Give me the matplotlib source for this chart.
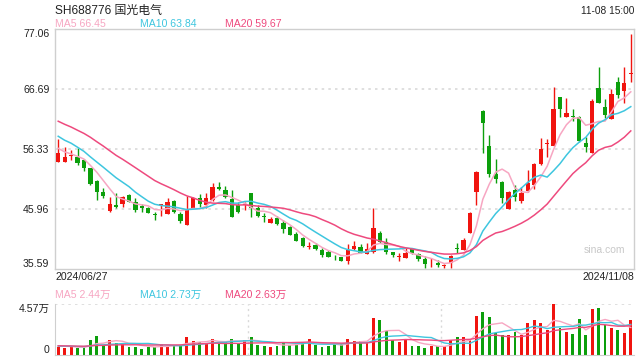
import matplotlib
matplotlib.use("Agg")
import matplotlib.pyplot as plt
import numpy as np

plt.rcParams['font.family'] = ['Liberation Sans', 'Noto Sans CJK SC']

##############################################################################
# Data
title = "SH688776 国光电气"
date_first = "2024/06/27"
date_last = "2024/11/08"
stamp = "11-08 15:00"

opens = [54.20, 54.20, 55.24, 55.01, 54.49, 53.05, 50.87, 49.02, 45.74, 46.72,
         46.89, 48.45, 47.18, 46.55, 46.26, 45.17, 46.66, 45.22, 47.41, 45.11,
         43.27, 46.20, 47.87, 46.72, 47.64, 49.83, 49.31, 47.76, 46.72, 46.72,
         48.74, 46.26, 44.82, 43.67, 44.53, 43.56, 42.87, 41.71, 40.97, 39.41,
         39.76, 38.95, 38.61, 37.74, 37.68, 36.94, 39.12, 39.41, 38.20, 38.66,
         41.94, 40.39, 38.61, 37.68, 37.51, 39.12, 38.26, 37.40, 36.42, 36.76,
         36.19, 36.65, 39.18, 38.95, 41.83, 49.02, 63.01, 56.91, 52.07, 50.69,
         45.97, 49.31, 47.47, 49.20, 50.17, 53.80, 57.26, 56.91, 65.31, 61.97,
         62.09, 61.97, 57.37, 55.76, 66.87, 63.59, 61.57, 67.96, 66.46, 69.34]
highs = [58.12, 56.68, 56.16, 56.50, 54.60, 53.17, 50.98, 49.71, 48.16, 48.74,
         48.22, 48.56, 47.99, 46.84, 46.40, 45.45, 46.95, 47.87, 47.58, 45.57,
         48.22, 48.05, 48.62, 48.85, 50.46, 50.64, 50.06, 49.31, 47.30, 47.30,
         48.85, 46.72, 45.28, 44.59, 44.82, 44.13, 43.10, 42.12, 41.25, 40.39,
         40.10, 39.24, 38.95, 38.09, 37.80, 39.99, 40.51, 39.99, 40.10, 46.15,
         42.23, 40.97, 38.66, 38.37, 39.24, 39.24, 38.49, 37.92, 37.51, 37.22,
         36.53, 38.09, 40.10, 40.97, 45.57, 52.59, 63.13, 58.81, 54.61, 50.81,
         49.20, 50.17, 49.77, 52.77, 53.92, 58.23, 58.06, 67.15, 65.43, 65.14,
         63.30, 62.09, 58.41, 64.97, 70.49, 65.03, 66.69, 68.77, 70.49, 76.25]
lows = [54.20, 54.20, 54.49, 53.63, 52.65, 50.17, 47.58, 47.99, 45.45, 46.20,
        46.43, 47.18, 45.45, 45.45, 45.30, 44.13, 44.82, 45.22, 45.39, 43.67,
        43.27, 46.14, 46.43, 46.26, 47.47, 49.37, 47.99, 44.71, 45.28, 45.86,
        44.71, 44.71, 43.84, 43.56, 43.27, 41.83, 41.54, 40.45, 39.41, 39.07,
        38.95, 37.80, 37.63, 37.22, 37.05, 36.48, 38.95, 38.37, 38.20, 38.49,
        40.10, 38.20, 37.63, 37.11, 37.51, 38.26, 37.11, 35.90, 36.07, 36.07,
        35.90, 35.90, 38.37, 38.95, 41.83, 46.72, 55.64, 51.61, 50.46, 47.12,
        45.97, 47.47, 47.01, 49.02, 49.43, 53.63, 54.95, 56.91, 61.97, 61.97,
        61.28, 57.66, 55.93, 55.76, 64.28, 61.69, 61.57, 65.14, 64.28, 68.02]
closes = [55.76, 54.95, 55.41, 54.03, 53.05, 50.29, 49.02, 48.33, 46.89, 46.32,
          48.10, 47.30, 45.80, 46.15, 45.40, 44.99, 46.84, 47.24, 45.57, 43.96,
          45.86, 47.93, 46.89, 47.87, 49.77, 49.49, 48.16, 44.71, 45.57, 46.89,
          46.15, 44.88, 44.65, 44.30, 43.38, 42.58, 41.54, 40.56, 39.53, 39.58,
          39.12, 38.09, 37.80, 37.63, 37.11, 38.95, 39.70, 38.49, 39.07, 42.69,
          40.39, 38.66, 38.09, 37.97, 38.49, 38.37, 37.34, 36.53, 36.53, 36.25,
          36.30, 37.92, 39.07, 40.68, 45.28, 52.48, 60.94, 52.07, 51.15, 47.87,
          49.02, 48.16, 48.74, 50.58, 53.80, 56.39, 57.43, 63.24, 63.24, 62.55,
          61.97, 57.83, 56.79, 64.68, 64.39, 62.26, 65.89, 65.72, 67.84, 69.57]
# volume in 万 shares
vols = [0.72, 0.66, 0.69, 0.66, 0.69, 1.38, 1.66, 0.90, 1.38, 1.11,
        1.11, 0.75, 0.75, 0.57, 0.75, 0.75, 1.02, 0.75, 0.90, 0.90,
        1.57, 1.29, 1.14, 1.08, 1.47, 1.14, 1.14, 1.47, 1.08, 1.38,
        1.57, 0.93, 0.84, 0.75, 0.84, 1.08, 0.90, 1.08, 1.11, 1.47,
        0.93, 0.69, 0.84, 0.96, 1.02, 1.47, 1.29, 1.23, 1.14, 3.28,
        3.10, 2.14, 1.32, 1.20, 1.47, 0.84, 0.78, 0.66, 0.84, 0.78,
        0.78, 1.32, 1.57, 1.57, 1.32, 3.46, 3.82, 3.37, 1.99, 1.75,
        1.75, 2.05, 1.75, 2.83, 3.10, 2.83, 2.20, 4.57, 2.38, 2.05,
        1.84, 3.19, 1.78, 4.09, 4.18, 2.68, 2.41, 2.20, 1.93, 3.10]
# sessions before the window (only feed the moving averages)
prior_closes = [65.5, 64.8, 65.2, 64.0, 63.6, 64.5, 63.2, 63.0, 62.4, 61.5,
                61.8, 60.5, 61.0, 60.2, 59.8, 58.0, 57.2, 56.1, 55.4]
prior_vols = [0.90, 0.80, 1.00, 0.85, 0.70, 0.95, 0.80, 0.75, 0.90, 0.85,
              0.80, 0.70, 0.90, 0.80, 0.85, 0.75, 0.80, 0.90, 0.85]

# legend values as printed on the chart
ma_names = ["MA5", "MA10", "MA20"]
ma_price_last = [66.45, 63.84, 59.67]
ma_vol_last = [2.44, 2.73, 2.63]

price_ticks = [77.06, 66.69, 56.33, 45.96, 35.59]
vol_top = 4.57

##############################################################################
RED = '#f0140f'
GREEN = '#0c9f0c'
C_MA5 = '#f7a6c2'
C_MA10 = '#3ec6df'
C_MA20 = '#ee4a7e'
GRID = '#d9d9d9'
FRAME = '#cfcfcf'
TXT = '#222222'
ma_cols = [C_MA5, C_MA10, C_MA20]


def moving_avg(hist, vals, n):
    full = np.array(list(hist) + list(vals), dtype=float)
    out = np.convolve(full, np.ones(n) / n, mode='valid')
    return out[-len(vals):]


o = np.array(opens); h = np.array(highs); l = np.array(lows); c = np.array(closes)
v = np.array(vols)
x = np.arange(len(c))
up = c >= o
col = np.where(up, RED, GREEN)

fig = plt.figure(figsize=(6.4, 3.6), dpi=100)
ax = fig.add_axes([55/640, 1 - 269.3/360, 579/640, 240/360])
axv = fig.add_axes([55/640, 1 - 355/360, 579/640, 51/360])

# Candles
ax.vlines(x, l, h, colors=col, linewidth=1.0, zorder=2)
body_lo = np.minimum(o, c)
body_h = np.maximum(np.abs(c - o), 0.12)
ax.bar(x, body_h, bottom=body_lo, width=0.66, color=col, linewidth=0, zorder=3)

# Price moving averages
for n, cc in zip((5, 10, 20), ma_cols):
    ax.plot(x, moving_avg(prior_closes, closes, n), color=cc, lw=1.1, zorder=4)

ax.set_xlim(-0.5, len(c) - 0.5)
ax.set_ylim(price_ticks[-1], price_ticks[0])
for t in price_ticks[1:-1]:
    ax.axhline(t, color=GRID, lw=1.2, ls=(0, (1.5, 2.5)), zorder=1)
ax.set_xticks([])
ax.set_yticks(price_ticks)
ax.set_yticklabels([f"{t:.2f}" for t in price_ticks])
ax.tick_params(axis='y', length=0, pad=4, labelsize=7.6, labelcolor=TXT)
labs = ax.get_yticklabels()
labs[0].set_va('top')
labs[-1].set_va('bottom')
for s in ax.spines.values():
    s.set_color(FRAME)
    s.set_linewidth(1.0)
ax.text(0.985, 0.08, "sina.com", transform=ax.transAxes, ha='right', va='center',
        fontsize=7.5, color='#c8c8c8')

# Volume
axv.bar(x, v, width=0.45, color=col, linewidth=0, zorder=2)
for n, cc in zip((5, 10, 20), ma_cols):
    axv.plot(x, moving_avg(prior_vols, vols, n), color=cc, lw=1.0, zorder=3)
axv.set_xlim(-0.5, len(c) - 0.5)
axv.set_ylim(0, vol_top)
axv.set_xticks([])
axv.set_yticks([vol_top, 0])
axv.set_yticklabels([f"{vol_top:.2f}万", "0"])
axv.tick_params(axis='y', length=0, pad=4, labelsize=7.6, labelcolor=TXT)
vl = axv.get_yticklabels()
vl[0].set_va('top')
vl[1].set_va('bottom')
axv.axhline(vol_top, color=GRID, lw=1.2, ls=(0, (1.5, 2.5)), zorder=1)
for k in (1, 2):
    axv.axvline(-0.5 + len(c) * k / 3, color=GRID, lw=1.0, ls=(0, (1.5, 2.5)), zorder=1)
axv.spines['top'].set_visible(False)
axv.spines['right'].set_visible(False)
for s in ('left', 'bottom'):
    axv.spines[s].set_color(FRAME)

# Header texts
fig.text(55/640, 1 - 11/360, title, fontsize=8.6, color=TXT, ha='left', va='center')
fig.text(634/640, 1 - 11/360, stamp, fontsize=7.3, color=TXT, ha='right', va='center')

for xi, name, val, cc in zip((55, 140, 225), ma_names, ma_price_last, ma_cols):
    fig.text(xi/640, 1 - 24/360, f"{name} {val:.2f}", fontsize=7.6, color=cc,
             ha='left', va='center')
for xi, name, val, cc in zip((55, 140, 225), ma_names, ma_vol_last, ma_cols):
    fig.text(xi/640, 1 - 295/360, f"{name} {val:.2f}万", fontsize=7.6, color=cc,
             ha='left', va='center')

fig.text(55/640, 1 - 277/360, date_first, fontsize=7.6, color=TXT, ha='left', va='center')
fig.text(634/640, 1 - 277/360, date_last, fontsize=7.6, color=TXT, ha='right', va='center')

fig.savefig("out.png", dpi=100)
